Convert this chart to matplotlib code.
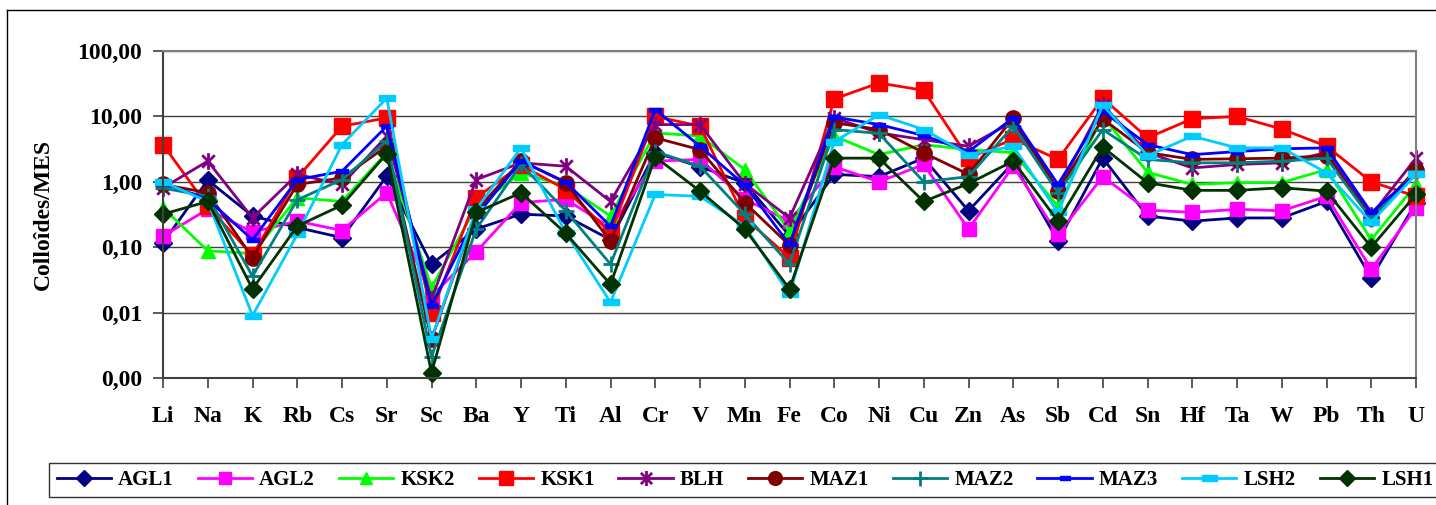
import numpy as np
import matplotlib
matplotlib.use("Agg")
import matplotlib.pyplot as plt
from matplotlib.path import Path
from matplotlib.lines import Line2D

plt.rcParams["font.family"] = ["Liberation Serif", "DejaVu Serif"]
plt.rcParams["font.weight"] = "bold"

elements = ["Li", "Na", "K", "Rb", "Cs", "Sr", "Sc", "Ba", "Y", "Ti", "Al", "Cr", "V", "Mn",
            "Fe", "Co", "Ni", "Cu", "Zn", "As", "Sb", "Cd", "Sn", "Hf", "Ta", "W", "Pb", "Th", "U"]

agl1 = [0.117, 1.06, 0.30, 0.20, 0.14, 1.22, 0.055, 0.19, 0.32, 0.30, 0.13, 2.8, 1.7, 0.96,
        0.15, 1.3, 1.2, 2.3, 0.36, 1.95, 0.124, 2.3, 0.30, 0.25, 0.28, 0.28, 0.50, 0.034, 0.48]
agl2 = [0.148, 0.38, 0.17, 0.25, 0.18, 0.68, 0.018, 0.085, 0.48, 0.54, 0.20, 2.07, 2.2, 0.54,
        0.25, 1.7, 1.0, 1.84, 0.19, 1.73, 0.157, 1.2, 0.37, 0.34, 0.38, 0.36, 0.60, 0.046, 0.40]
ksk2 = [0.40, 0.088, 0.08, 0.57, 0.50, 2.8, 0.024, 0.42, 1.37, 0.86, 0.30, 5.6, 5.0, 1.54,
        0.177, 5.0, 2.6, 3.7, 3.1, 2.8, 0.42, 10.0, 1.4, 0.91, 0.97, 0.97, 1.54, 0.13, 0.91]
ksk1 = [3.7, 0.42, 0.075, 1.15, 7.07, 9.5, 0.010, 0.57, 1.8, 0.76, 0.167, 10.0, 7.1, 0.28,
        0.069, 18.5, 32.5, 25.0, 2.3, 4.5, 2.2, 19.0, 4.7, 9.2, 10.0, 6.4, 3.5, 1.0, 0.60]
blh = [0.81, 2.07, 0.28, 1.3, 0.91, 5.0, 0.016, 1.08, 1.95, 1.73, 0.50, 7.5, 7.5, 0.94,
       0.28, 9.5, 5.6, 4.4, 3.5, 8.4, 0.76, 15.0, 2.8, 1.63, 1.84, 1.95, 2.8, 0.31, 2.3]
maz1 = [0.91, 0.68, 0.069, 0.91, 1.15, 3.5, 0.0039, 0.36, 2.1, 0.97, 0.124, 4.7, 3.1, 0.48,
        0.107, 8.0, 6.3, 2.77, 1.3, 9.5, 0.72, 9.2, 2.8, 2.2, 2.25, 2.3, 2.5, 0.28, 1.54]
maz2 = [0.80, 0.60, 0.036, 0.53, 1.08, 4.2, 0.0021, 0.19, 1.84, 0.36, 0.055, 2.9, 1.73, 0.32,
        0.055, 6.3, 5.5, 1.0, 1.2, 7.1, 0.68, 6.3, 2.2, 1.95, 1.95, 2.07, 2.3, 0.27, 1.45]
maz3 = [0.95, 0.54, 0.13, 1.08, 1.45, 7.1, 0.0127, 0.30, 2.07, 0.99, 0.21, 12.7, 3.5, 0.89,
        0.11, 9.8, 7.5, 5.1, 2.9, 9.5, 0.91, 12.0, 3.7, 2.6, 2.9, 3.2, 3.3, 0.34, 1.3]
lsh2 = [1.0, 0.50, 0.009, 0.157, 3.7, 19.0, 0.004, 0.38, 3.3, 0.166, 0.0144, 0.64, 0.60, 0.21,
        0.019, 4.1, 10.6, 6.3, 2.6, 3.5, 0.34, 15.0, 2.5, 5.0, 3.3, 3.3, 1.37, 0.24, 1.3]
lsh1 = [0.32, 0.50, 0.023, 0.21, 0.44, 2.7, 0.0012, 0.34, 0.68, 0.163, 0.027, 2.4, 0.72, 0.19,
        0.023, 2.3, 2.3, 0.50, 0.94, 2.07, 0.25, 3.4, 0.97, 0.74, 0.74, 0.81, 0.72, 0.10, 0.64]

names = ["AGL1", "AGL2", "KSK2", "KSK1", "BLH", "MAZ1", "MAZ2", "MAZ3", "LSH2", "LSH1"]
series = [agl1, agl2, ksk2, ksk1, blh, maz1, maz2, maz3, lsh2, lsh1]
colors = ["#000080", "#FF00FF", "#00FF00", "#FF0000", "#800080",
          "#800000", "#008080", "#0000FF", "#00CCFF", "#003300"]

# Excel-like marker shapes
star = Path([(0, -1), (0, 1), (-0.75, -0.75), (0.75, 0.75), (-0.75, 0.75), (0.75, -0.75)],
            [Path.MOVETO, Path.LINETO, Path.MOVETO, Path.LINETO, Path.MOVETO, Path.LINETO])
dash = [(-1, -0.35), (1, -0.35), (1, 0.35), (-1, 0.35), (-1, -0.35)]
markers = ["D", "s", "^", "s", star, "o", "+", dash, dash, "D"]
msizes = [9, 10, 10, 11, 12, 11, 12, 8, 12, 9]

fig = plt.figure(figsize=(14.36, 5.05), dpi=100)
ax = fig.add_axes([163 / 1436, 1 - 378 / 505, (1416 - 163) / 1436, (378 - 51) / 505])

x = np.arange(len(elements))
for name, vals, c, m, ms in zip(names, series, colors, markers, msizes):
    ax.plot(x, vals, color=c, lw=2, marker=m, markersize=ms, markerfacecolor=c,
            markeredgecolor=c, markeredgewidth=2 if m in ("+",) or m is star else 1,
            label=name, clip_on=False)

ax.set_yscale("log")
ax.set_ylim(0.001, 100)
ax.set_xlim(0, len(elements) - 1)
yt = [0.001, 0.01, 0.1, 1, 10, 100]
ax.set_yticks(yt)
ax.set_yticklabels([f"{v:.2f}".replace(".", ",") for v in yt], fontsize=17, fontweight="bold")
ax.yaxis.set_minor_locator(matplotlib.ticker.NullLocator())
ax.set_xticks(x)
ax.set_xticklabels(elements, fontsize=17, fontweight="bold")
ax.tick_params(axis="y", direction="out", length=7, width=1.2, color="#404040", pad=8)
ax.tick_params(axis="x", direction="out", length=7, width=1.2, color="#404040", pad=13)
ax.grid(axis="y", color="#404040", lw=1)
ax.set_axisbelow(True)
for s in ["left", "bottom"]:
    ax.spines[s].set_color("#404040")
    ax.spines[s].set_linewidth(1.5)
for s in ["top", "right"]:
    ax.spines[s].set_color("#808080")
    ax.spines[s].set_linewidth(1.5)

fig.text(43 / 1436, 1 - 215 / 505, "Colloîdes/MES", rotation=90, ha="center", va="center",
         fontsize=17, fontweight="bold")

leg = fig.legend(loc="center", bbox_to_anchor=(745 / 1436, 1 - 480 / 505), ncol=10,
                 fontsize=15, frameon=True, fancybox=False, edgecolor="black",
                 handlelength=2.6, handletextpad=0.35, columnspacing=1.15,
                 borderpad=0.35, markerscale=0.9)
leg.get_frame().set_linewidth(1)

# chart-area border
fig.add_artist(Line2D([7 / 1436, 1], [1 - 10 / 505] * 2, color="black", lw=1))
fig.add_artist(Line2D([7 / 1436] * 2, [0, 1 - 10 / 505], color="black", lw=1))

fig.savefig("out.png", dpi=100)
